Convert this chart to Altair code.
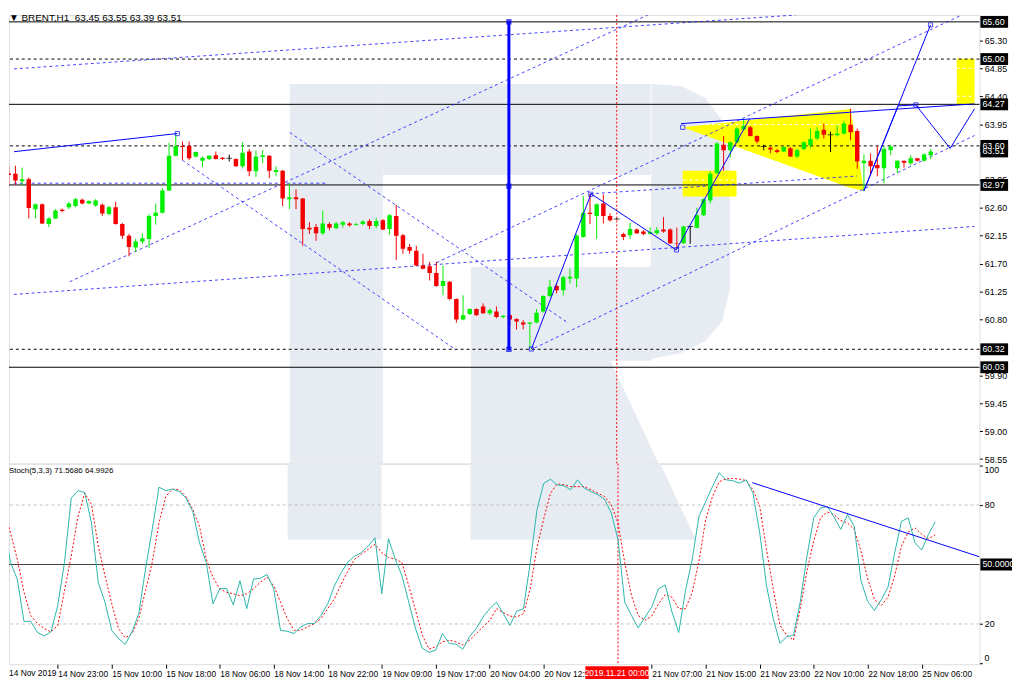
import altair as alt
import pandas as pd

# ---------------- data ----------------
opens = [63.16,63.15,63.03,63.06,62.58,62.66,62.34,62.43,62.57,62.61,62.63,62.73,62.67,62.64,62.65,62.50,62.61,62.34,62.15,61.96,
         62.06,62.10,62.47,62.52,62.88,63.44,63.60,63.60,63.43,63.36,63.39,63.45,63.41,63.40,63.39,63.27,63.51,63.19,63.42,63.44,
         63.18,63.20,62.74,62.77,62.75,62.28,62.29,62.19,62.34,62.27,62.33,62.35,62.33,62.34,62.39,62.31,62.40,62.26,62.47,62.16,
         61.97,61.91,61.67,61.66,61.55,61.34,61.41,61.13,60.80,60.89,60.97,61.01,60.90,60.93,60.84,60.87,60.81,60.75,60.73,60.75,
         60.93,61.18,61.34,61.27,61.46,61.46,62.13,62.52,62.47,62.67,62.47,62.42,62.18,62.16,62.25,62.22,62.18,62.19,62.25,62.25,
         62.03,62.03,62.30,62.28,62.48,62.72,63.16,63.62,63.53,63.66,63.87,63.90,63.76,63.59,63.57,63.53,63.51,63.56,63.43,63.55,
         63.61,63.72,63.86,63.78,63.77,63.80,63.94,63.84,63.32,63.36,63.29,63.24,63.53,63.24,63.36,63.32,63.40,63.36,63.45]
highs = [63.27,63.28,63.25,63.09,62.67,62.67,62.45,62.58,62.59,62.70,62.76,62.75,62.72,62.74,62.67,62.63,62.70,62.36,62.18,62.10,
         62.19,62.50,62.67,62.92,63.65,63.80,63.67,63.67,63.51,63.43,63.45,63.51,63.42,63.46,63.40,63.66,63.55,63.53,63.53,63.45,
         63.27,63.21,63.00,62.90,62.76,62.37,62.34,62.56,62.37,62.37,62.39,62.37,62.36,62.40,62.42,62.44,62.42,62.50,62.65,62.18,
         62.02,61.99,61.86,61.73,61.73,61.67,61.42,61.14,61.19,60.98,60.98,61.06,60.98,61.01,60.87,60.90,60.82,60.79,60.76,60.97,
         61.19,61.44,61.38,61.51,61.62,62.18,62.79,62.83,62.67,62.82,62.51,62.43,62.20,62.36,62.27,62.24,62.29,62.29,62.45,62.27,
         62.28,62.31,62.31,62.60,62.75,63.19,63.66,63.76,63.67,63.90,64.04,63.92,63.77,63.62,63.59,63.55,63.59,63.58,63.56,63.67,
         63.88,63.90,63.96,63.83,63.93,64.00,64.20,63.88,63.46,63.48,63.60,63.59,63.61,63.37,63.36,63.45,63.40,63.48,63.55]
lows = [62.97,62.97,62.97,62.43,62.43,62.34,62.29,62.42,62.53,62.58,62.61,62.66,62.66,62.62,62.47,62.48,62.33,62.10,61.82,61.89,
        62.02,61.95,62.33,62.51,62.87,63.43,63.37,63.37,63.41,63.26,63.37,63.38,63.37,63.35,63.26,63.24,63.11,63.10,63.32,63.08,
        63.11,62.63,62.58,62.58,61.99,62.18,62.07,62.16,62.24,62.26,62.28,62.30,62.31,62.32,62.26,62.27,62.24,62.17,61.76,61.86,
        61.86,61.66,61.61,61.43,61.33,61.19,61.11,60.75,60.79,60.87,60.86,60.89,60.87,60.82,60.82,60.69,60.64,60.64,60.33,60.74,
        60.91,61.16,61.22,61.19,61.38,61.32,62.12,62.34,62.10,62.35,62.38,62.41,62.08,62.10,62.18,62.16,62.17,62.17,62.20,62.02,
        61.93,62.02,62.02,62.27,62.47,62.67,63.15,63.20,63.41,63.64,63.85,63.75,63.64,63.53,63.48,63.48,63.50,63.42,63.40,63.53,
        63.56,63.69,63.72,63.50,63.75,63.78,63.69,63.23,62.87,63.13,63.11,63.00,63.45,63.16,63.25,63.29,63.35,63.35,63.39]
closes = [63.13,63.04,63.06,62.60,62.66,62.35,62.43,62.56,62.55,62.67,62.74,62.67,62.71,62.72,62.51,62.61,62.34,62.15,61.97,62.06,
          62.11,62.47,62.52,62.88,63.44,63.60,63.58,63.40,63.50,63.41,63.44,63.39,63.39,63.40,63.27,63.49,63.19,63.43,63.45,63.20,
          63.21,62.75,62.77,62.74,62.26,62.25,62.19,62.35,62.28,62.35,62.37,62.32,62.34,62.38,62.31,62.39,62.25,62.48,62.15,61.94,
          61.91,61.67,61.62,61.55,61.34,61.42,61.13,60.80,60.87,60.97,60.87,60.90,60.95,60.84,60.86,60.80,60.77,60.72,60.75,60.91,
          61.18,61.33,61.27,61.48,61.49,62.15,62.52,62.50,62.66,62.47,62.40,62.42,62.13,62.26,62.19,62.18,62.21,62.24,62.22,62.03,
          62.02,62.30,62.30,62.48,62.74,63.15,63.64,63.53,63.66,63.88,63.92,63.76,63.67,63.59,63.54,63.50,63.58,63.43,63.53,63.66,
          63.71,63.84,63.78,63.78,63.80,63.96,63.82,63.35,63.36,63.27,63.24,63.55,63.59,63.36,63.33,63.40,63.36,63.46,63.51]

stoch_k = [71,51,42.7,21.3,21.3,15.7,14,16,29.3,51,83.5,87.3,86.3,71,41,31,16.8,12.7,9.7,16,
           25.2,47.7,67.7,89,87.3,88,86.8,83.5,76.8,61,51,30.2,37.7,38,29.7,41.8,27.7,42.7,43,45,
           37.7,16.8,16.3,15.2,18.5,20.2,20.2,24.3,30.2,39.3,46,51.3,54.3,56,59.3,63.5,35.2,63,52.7,44.3,
           31,17.7,7.7,5.7,6.8,15.2,10.2,9.8,7.3,13.5,17.7,23.5,27.7,31,25.2,19.3,26.5,27.7,51,77.7,
           91,93,90.2,89.7,87.7,92.7,88.5,86.8,85.2,83,76,62.7,31,24.3,18,23.5,28.5,37.7,39.7,26,
           15.7,36.8,52.7,74.3,81.8,89.3,96.3,92.7,92.3,91,92.7,86,66,39.3,22.7,10.2,13.5,14.3,31,54.3,
           73.5,78.5,79.3,74,67.7,75.2,69.3,41.8,31.3,26.8,32.3,38.5,56,71.8,73.5,61,57.3,65.2,71.57]
stoch_d = [78.5,66,52.7,36,24.3,20.2,17.7,16,19.3,36.8,54.3,74.3,86,80.2,59.3,44.3,30.2,17.7,13,15.2,
           22.7,36.8,51,71,84.3,88,87.7,84.3,77.7,69.3,52.7,43.5,37.7,36,35.2,34.3,35.2,37.7,41,43.5,
           39.3,31,22.7,16.8,16.8,18.5,20.2,22.7,27.7,32.7,40.2,46.8,52.7,55.2,57.7,60.2,56,53.5,52.7,51,
           39.3,27,14.5,7.3,8.5,11,11.8,11,9.3,11.8,15.2,18.5,21.8,27.7,25.7,24,23.5,25.2,37.7,58.5,
           73,86,90.7,90.2,89.3,89.3,89.3,87.7,86,84.3,80.2,71,51,34.3,24.3,21.8,24,30.2,34.8,33.5,
           27.7,27.7,36,51.8,72.7,84.3,91.8,93.2,93.5,93,92.3,87.7,79.3,57.7,37.7,19.3,14.3,11.8,27.7,46.8,
           61.8,73.5,76.5,75.2,72.2,71,67.7,56.8,42.7,32.3,29.3,33.5,44.3,59.3,66.3,68.5,65.2,63,64.99]

# time axis: bar index -> label
time_ticks = [8, 16, 24, 32, 40, 48, 56, 64, 72, 80, 96, 104, 112, 120, 128, 136]
time_labels = ["14 Nov 23:00", "15 Nov 10:00", "15 Nov 18:00", "18 Nov 06:00", "18 Nov 14:00",
               "18 Nov 22:00", "19 Nov 09:00", "19 Nov 17:00", "20 Nov 04:00", "20 Nov 12:00", "21 Nov 07:00",
               "21 Nov 15:00", "21 Nov 23:00", "22 Nov 10:00", "22 Nov 18:00", "25 Nov 06:00"]
first_label = "14 Nov 2019"
cursor_bar = 91
cursor_label = "2019.11.21 00:00"

price_ticks = [65.75, 65.30, 64.85, 64.40, 63.95, 63.05, 62.60, 62.15, 61.70, 61.25, 60.80,
               59.90, 59.45, 59.00, 58.55]
stoch_ticks = [0, 20, 80, 100]
stoch_top_label = "100"
stoch_bottom_label = "0"
solid_levels = [65.60, 64.27, 62.97, 60.03]
dotted_levels = [65.00, 63.60, 60.32]
box_levels = [65.60, 65.00, 64.27, 63.60, 63.51, 62.97, 60.32, 60.03]
box_texts = ["65.60", "65.00", "64.27", "63.60", "63.51", "62.97", "60.32", "60.03"]

# trend objects (bar index, price)
dash_i1 = [0.776, 9.12, 25.99, 42.06, 0.776, 64.03, 78.7, 0.776, 87.01]
dash_p1 = [64.841, 61.409, 63.369, 63.815, 61.205, 61.716, 60.341, 62.998, 62.827]
dash_i2 = [117.8, 95.65, 66.96, 83.79, 144.55, 142.65, 144.55, 47.63, 126.98]
dash_p2 = [65.711, 65.711, 60.309, 60.739, 62.301, 65.711, 63.767, 62.998, 63.114]

solid_i1 = [0.776, 78.23, 87.16, 99.9, 100.63, 128.0, 128.0, 133.13, 135.77, 140.9]
solid_p1 = [63.506, 60.325, 62.827, 61.924, 63.959, 62.875, 62.875, 64.245, 64.261, 63.560]
solid_i2 = [25.23, 87.16, 99.9, 110.9, 144.55, 137.97, 133.13, 135.77, 140.9, 144.55]
solid_p2 = [63.799, 62.827, 61.924, 64.038, 64.277, 65.551, 64.245, 64.261, 63.560, 64.197]

marker_i = [25.23, 137.97, 135.77, 100.88, 87.12, 99.94, 78.23]
marker_p = [63.799, 65.551, 64.261, 63.90, 62.82, 61.923, 60.325]

vline_i = 74.86
vline_p = [60.32, 65.60]
vmark_p = [65.60, 62.95, 60.32]

tri_i = [100.88, 126.0, 128.0]
tri_top = [63.90, 64.195, 62.875]
tri_bot = [63.90, 62.92, 62.875]

ybox_i1 = [100.88, 141.9]
ybox_i2 = [108.93, 144.55]
ybox_p1 = [63.198, 65.006]
ybox_p2 = [62.784, 64.261]

# white dashed guide lines inside the yellow objects
wdash_i1 = [103.5, 101.0, 101.0, 141.9, 141.9]
wdash_i2 = [125.5, 108.8, 108.8, 144.55, 144.55]
wdash_p = [63.943, 63.05, 62.97, 64.85, 64.40]

# watermark (faint logo) in data coordinates
wm_rect_i1 = [42.06, 55.97]
wm_rect_i2 = [55.97, 96.09]
wm_rect_p1 = [64.596, 64.596]
wm_rect_p2 = [58.477, 63.130]
bowl_i = [83.50, 96.09, 96.24, 100.63, 104.29, 106.78, 107.95]
bowl_top = [61.648, 61.648, 64.596, 64.564, 64.373, 64.006, 63.449]
bowl_bot = [60.134, 60.134, 60.166, 60.262, 60.453, 60.771, 61.297]
leg_i = [69.15, 83.50, 97.26]
leg_top = [61.648, 61.648, 58.477]
leg_bot = [58.477, 58.477, 58.477]
# bottom panel part of the logo (stochastic units)
wmb_i1 = [42.06]
wmb_i2 = [55.97]
wmb_s1 = [100.9]
wmb_s2 = [62.54]
legb_i = [69.15, 97.26, 102.53]
legb_top = [100.9, 100.9, 62.54]
legb_bot = [62.54, 62.54, 62.54]

stoch_trend_i = [110.9, 144.55]
stoch_trend_s = [91.3, 53.9]

# ---------------- layout constants ----------------
W = 982
H_TOP = 454
H_BOT = 203
FONT = "Liberation Sans"

XS = alt.Scale(domain=[0.776, 144.55], nice=False, zero=False)
PS = alt.Scale(domain=[58.4765, 65.7116], nice=False, zero=False)
SS = alt.Scale(domain=[-0.3, 100.9], nice=False, zero=False)

P_AXIS = alt.Axis(orient="right", values=price_ticks, format=".2f", title=None, grid=False,
                  labelFontSize=9, labelFont=FONT, labelColor="#000000", tickSize=3, tickColor="#000000",
                  labelPadding=2, domain=False, labelOverlap=False, labelBound=False)
S_AXIS = alt.Axis(orient="right", values=stoch_ticks, format="d", title=None, grid=False,
                  labelExpr="(datum.value == 0 || datum.value == 100) ? '' : datum.label",
                  labelFontSize=9, labelFont=FONT, labelColor="#000000", tickSize=3, tickColor="#000000",
                  labelPadding=2, domain=False, labelOverlap=False, labelBound=False)
label_map = "{" + ",".join("'%d':'%s'" % (t, l) for t, l in zip(time_ticks, time_labels)) + "}"
T_AXIS = alt.Axis(values=time_ticks, labelExpr=label_map + "[datum.value]", title=None, grid=False,
                  labelAlign="left", labelFontSize=8.5, labelFont=FONT, labelColor="#000000",
                  tickSize=4, tickColor="#000000", labelPadding=1, domain=False, labelOverlap=False,
                  labelBound=False, labelFlush=False)


def X(f, axis=None):
    return alt.X(f, type="quantitative", scale=XS, axis=axis)


def YP(f):
    return alt.Y(f, type="quantitative", scale=PS, axis=P_AXIS)


def YS(f):
    return alt.Y(f, type="quantitative", scale=SS, axis=S_AXIS)


# ---------------- tables ----------------
n = len(opens)
candles = pd.DataFrame({"i": list(range(n)), "o": opens, "h": highs, "l": lows, "c": closes})
candles["dir"] = ["up" if c > o else ("down" if c < o else "doji") for o, c in zip(opens, closes)]
cscale = alt.Scale(domain=["up", "down", "doji"], range=["#00ee00", "#f40000", "#000000"])

dash_df = pd.DataFrame({"i1": dash_i1, "p1": dash_p1, "i2": dash_i2, "p2": dash_p2})
solid_df = pd.DataFrame({"i1": solid_i1, "p1": solid_p1, "i2": solid_i2, "p2": solid_p2})
marker_df = pd.DataFrame({"i": marker_i, "p": marker_p})
vline_df = pd.DataFrame({"i": [vline_i], "p1": [vline_p[0]], "p2": [vline_p[1]]})
vmark_df = pd.DataFrame({"i": [vline_i] * len(vmark_p), "p": vmark_p})
tri_df = pd.DataFrame({"i": tri_i, "top": tri_top, "bot": tri_bot})
ybox_df = pd.DataFrame({"i1": ybox_i1, "i2": ybox_i2, "p1": ybox_p1, "p2": ybox_p2})
wdash_df = pd.DataFrame({"i1": wdash_i1, "i2": wdash_i2, "p": wdash_p})
wm_df = pd.DataFrame({"i1": wm_rect_i1, "i2": wm_rect_i2, "p1": wm_rect_p1, "p2": wm_rect_p2})
bowl_df = pd.DataFrame({"i": bowl_i, "top": bowl_top, "bot": bowl_bot})
leg_df = pd.DataFrame({"i": leg_i, "top": leg_top, "bot": leg_bot})
wmb_df = pd.DataFrame({"i1": wmb_i1, "i2": wmb_i2, "s1": wmb_s1, "s2": wmb_s2})
legb_df = pd.DataFrame({"i": legb_i, "top": legb_top, "bot": legb_bot})
lvl_solid = pd.DataFrame({"p": solid_levels})
lvl_dot = pd.DataFrame({"p": dotted_levels})
box_df = pd.DataFrame({"p": box_levels, "t": box_texts})
cursor_df = pd.DataFrame({"i": [cursor_bar], "t": [cursor_label]})
stoch_df = pd.DataFrame({"i": list(range(n)), "k": stoch_k, "d": stoch_d})
strend_df = pd.DataFrame({"i": stoch_trend_i, "s": stoch_trend_s})

WM = "#e7ebf2"

# ---------------- top panel ----------------
wm = alt.Chart(wm_df).mark_rect(color=WM, clip=True).encode(x=X("i1"), x2="i2", y=YP("p1"), y2="p2")
bowl = alt.Chart(bowl_df).mark_area(color=WM, opacity=1, clip=True).encode(x=X("i"), y=YP("top"), y2="bot")
leg = alt.Chart(leg_df).mark_area(color=WM, opacity=1, clip=True).encode(x=X("i"), y=YP("top"), y2="bot")
tri = alt.Chart(tri_df).mark_area(color="#ffff00", opacity=1, clip=True).encode(x=X("i"), y=YP("top"), y2="bot")
ybox = alt.Chart(ybox_df).mark_rect(color="#ffff00", clip=True).encode(x=X("i1"), x2="i2", y=YP("p1"), y2="p2")
wdash = alt.Chart(wdash_df).mark_rule(color="#ffffff", strokeWidth=1, strokeDash=[3, 3], clip=True).encode(
    x=X("i1"), x2="i2", y=YP("p"))
lv1 = alt.Chart(lvl_solid).mark_rule(color="#000000", strokeWidth=1).encode(y=YP("p"))
lv2 = alt.Chart(lvl_dot).mark_rule(color="#000000", strokeWidth=1, strokeDash=[3, 3]).encode(y=YP("p"))
dash = alt.Chart(dash_df).mark_rule(color="#2020ff", strokeWidth=1, strokeDash=[3, 3], opacity=0.85,
                                    clip=True).encode(x=X("i1"), x2="i2", y=YP("p1"), y2="p2")
cur_top = alt.Chart(cursor_df).mark_rule(color="#ff0000", strokeWidth=1, strokeDash=[2, 2]).encode(x=X("i"))
wick = alt.Chart(candles).mark_rule(strokeWidth=1, clip=True).encode(
    x=X("i"), y=YP("l"), y2="h", color=alt.Color("dir:N", scale=cscale, legend=None))
body = alt.Chart(candles).mark_bar(size=4.5, clip=True).encode(
    x=X("i"), y=YP("o"), y2="c", color=alt.Color("dir:N", scale=cscale, legend=None))
doji = alt.Chart(candles).transform_filter("datum.dir == 'doji'").mark_tick(
    orient="horizontal", size=6, thickness=1, color="#000000", clip=True).encode(x=X("i"), y=YP("o"))
solid = alt.Chart(solid_df).mark_rule(color="#0000ff", strokeWidth=1, clip=True).encode(
    x=X("i1"), x2="i2", y=YP("p1"), y2="p2")
vline = alt.Chart(vline_df).mark_rule(color="#0000ff", strokeWidth=3).encode(x=X("i"), y=YP("p1"), y2="p2")
vmarks = alt.Chart(vmark_df).mark_point(shape="square", size=30, filled=True, color="#0000ff").encode(
    x=X("i"), y=YP("p"))
marks = alt.Chart(marker_df).mark_point(shape="square", size=18, filled=False, color="#0000ff",
                                        strokeWidth=1).encode(x=X("i"), y=YP("p"))
boxes = alt.Chart(box_df).mark_rect(color="#000000", yOffset=-6, y2Offset=6).encode(
    x=alt.value(W + 1), x2=alt.value(W + 29), y=YP("p"), y2="p")
box_txt = alt.Chart(box_df).mark_text(align="left", baseline="middle", color="#ffffff", fontSize=9,
                                      font=FONT).encode(x=alt.value(W + 3), y=YP("p"), text="t:N")
header = alt.Chart(pd.DataFrame({"t": ["\u25bc BRENT,H1\u00a0\u00a063.45 63.55 63.39 63.51"]})).mark_text(
    align="left", baseline="middle", fontSize=10, font=FONT, color="#000000").encode(
    x=alt.value(0), y=alt.value(3), text="t:N")

top = alt.layer(wm, bowl, leg, tri, ybox, wdash, lv1, lv2, dash, cur_top, wick, body, doji, solid, vline,
                vmarks, marks, boxes, box_txt, header).properties(width=W, height=H_TOP)

# ---------------- bottom panel ----------------
wmb = alt.Chart(wmb_df).mark_rect(color=WM, clip=True).encode(x=X("i1", T_AXIS), x2="i2", y=YS("s1"), y2="s2")
legb = alt.Chart(legb_df).mark_area(color=WM, opacity=1, clip=True).encode(x=X("i", T_AXIS), y=YS("top"), y2="bot")
lvb = alt.Chart(pd.DataFrame({"s": [80, 20]})).mark_rule(color="#c0c0c0", strokeDash=[3, 3]).encode(y=YS("s"))
lvm = alt.Chart(pd.DataFrame({"s": [50]})).mark_rule(color="#404040", strokeWidth=1).encode(y=YS("s"))
cur_b = alt.Chart(cursor_df).mark_rule(color="#ff0000", strokeWidth=1, strokeDash=[2, 2]).encode(x=X("i", T_AXIS))
kline = alt.Chart(stoch_df).mark_line(color="#2ab5ab", strokeWidth=1, clip=True).encode(x=X("i", T_AXIS), y=YS("k"))
dline = alt.Chart(stoch_df).mark_line(color="#ff0000", strokeWidth=1, strokeDash=[2, 2], clip=True).encode(
    x=X("i", T_AXIS), y=YS("d"))
strend = alt.Chart(strend_df).mark_line(color="#0000ff", strokeWidth=1, clip=True).encode(
    x=X("i", T_AXIS), y=YS("s"))
stitle = alt.Chart(pd.DataFrame({"t": ["Stoch(5,3,3) 71.5686 64.9926"]})).mark_text(
    align="left", baseline="middle", fontSize=8, font=FONT, color="#000000").encode(
    x=alt.value(0), y=alt.value(8), text="t:N")
top_txt = alt.Chart(pd.DataFrame({"t": [stoch_top_label]})).mark_text(
    align="left", baseline="middle", fontSize=9, font=FONT, color="#000000").encode(
    x=alt.value(W + 5), y=alt.value(7), text="t:N")
bot_txt = alt.Chart(pd.DataFrame({"t": [stoch_bottom_label]})).mark_text(
    align="left", baseline="middle", fontSize=9, font=FONT, color="#000000").encode(
    x=alt.value(W + 5), y=alt.value(H_BOT - 6), text="t:N")
b50 = alt.Chart(pd.DataFrame({"s": [50], "t": ["50.0000"]})).mark_rect(color="#000000", yOffset=-6, y2Offset=6).encode(
    x=alt.value(W + 1), x2=alt.value(W + 33), y=YS("s"), y2="s")
b50t = alt.Chart(pd.DataFrame({"s": [50], "t": ["50.0000"]})).mark_text(
    align="left", baseline="middle", color="#ffffff", fontSize=9, font=FONT).encode(
    x=alt.value(W + 3), y=YS("s"), text="t:N")
first_txt = alt.Chart(pd.DataFrame({"t": [first_label]})).mark_text(
    align="left", baseline="top", fontSize=8.5, font=FONT, color="#000000").encode(
    x=alt.value(0), y=alt.value(H_BOT + 5), text="t:N")
cbox = alt.Chart(cursor_df).mark_rect(color="#ff0000", xOffset=-33, x2Offset=31).encode(
    x=X("i", T_AXIS), x2="i", y=alt.value(H_BOT + 2), y2=alt.value(H_BOT + 15))
ctxt = alt.Chart(cursor_df).mark_text(align="center", baseline="middle", color="#ffffff", fontSize=8.5,
                                      font=FONT, dx=-1).encode(x=X("i", T_AXIS), y=alt.value(H_BOT + 8.5), text="t:N")

bottom = alt.layer(wmb, legb, lvb, lvm, cur_b, dline, kline, strend, stitle, top_txt, bot_txt, b50, b50t,
                   first_txt, cbox, ctxt).properties(width=W, height=H_BOT)

chart = alt.vconcat(top, bottom, spacing=0, bounds="flush").properties(padding=0).configure_view(
    stroke="#404040", strokeWidth=1).configure(background="#ffffff")

chart.save("out.html", embed_options={"renderer": "svg", "actions": False})
